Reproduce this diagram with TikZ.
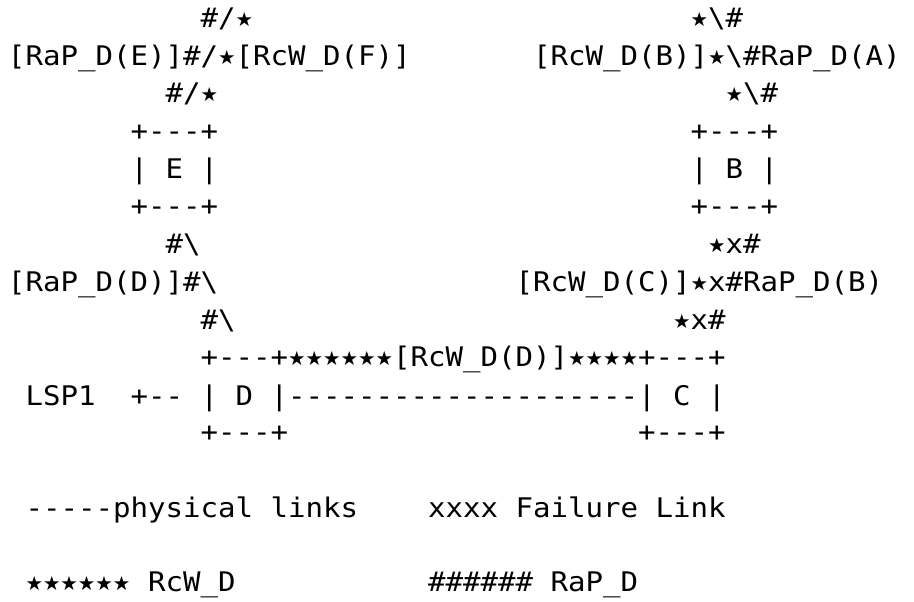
\documentclass[tikz,border=0pt]{standalone}
\usepackage{fontspec}
\newfontfamily\asciifont{DejaVu Sans Mono}[FakeStretch=1.077]
\newfontfamily\starfont{DejaVu Sans}
\newlength\asciichw
\newcommand\st{\settowidth{\asciichw}{x}\makebox[\asciichw]{\raisebox{1pt}{\starfont\fontsize{19.5}{20}\selectfont ★}}}
\tikzset{txt/.style={anchor=base west, inner sep=0pt, outer sep=0pt, text=black,
  font=\asciifont\fontsize{27}{32}\selectfont}}
\begin{document}
\begin{tikzpicture}[x=1pt,y=1pt]
\useasboundingbox[fill=white] (0,0) rectangle (914,-602);
% line 1
\node[txt] (a1) at (200.5,-27.5) {\#/\st};
\node[txt] (b1) at (690.5,-27.5) {\st\textbackslash\#};
% line 2
\node[txt] (a2) at (8,-65.1) {[RaP\_D(E)]\#/\st[RcW\_D(F)]};
\node[txt] (b2) at (533,-65.1) {[RcW\_D(B)]\st\textbackslash\#RaP\_D(A)};
% line 3
\node[txt] (a3) at (165.5,-102.7) {\#/\st};
\node[txt] (b3) at (725.5,-102.7) {\st\textbackslash\#};
% box E and box B
\node[txt] (e1) at (130.5,-140.3) {+---+};
\node[txt] (f1) at (690.5,-140.3) {+---+};
\node[txt] (e2) at (130.5,-178.5) {|};
\node[txt] (e3) at (165.5,-178.5) {E};
\node[txt] (e4) at (200.5,-178.5) {|};
\node[txt] (f2) at (690.5,-178.5) {|};
\node[txt] (f3) at (725.5,-178.5) {B};
\node[txt] (f4) at (760.5,-178.5) {|};
\node[txt] (e5) at (130.5,-215.5) {+---+};
\node[txt] (f5) at (690.5,-215.5) {+---+};
% line 7
\node[txt] (a7) at (165.5,-253.6) {\#\textbackslash};
\node[txt] (b7) at (708,-253.6) {\st x\#};
% line 8
\node[txt] (a8) at (8,-291.5) {[RaP\_D(D)]\#\textbackslash};
\node[txt] (b8) at (515.5,-291.5) {[RcW\_D(C)]\st x\#RaP\_D(B)};
% line 9
\node[txt] (a9) at (200.5,-329.3) {\#\textbackslash};
\node[txt] (b9) at (673,-329.3) {\st x\#};
% line 10
\node[txt] (dtop) at (200.5,-366.5) {+---+\st\st\st\st\st\st[RcW\_D(D)]\st\st\st\st+---+};
% line 11
\node[txt] (lsp) at (25.5,-405) {LSP1};
\node[txt] (lspa) at (130.5,-405) {+--};
\node[txt] (d1) at (200.5,-405) {|};
\node[txt] (d2) at (235.5,-405) {D};
\node[txt] (d3) at (270.5,-405) {|--------------------|};
\node[txt] (c2) at (673,-405) {C};
\node[txt] (c3) at (708,-405) {|};
% line 12
\node[txt] (dbot) at (200.5,-441.5) {+---+};
\node[txt] (cbot) at (638,-441.5) {+---+};
% legend
\node[txt] (lg1) at (25.5,-517) {-----physical links};
\node[txt] (lg2) at (428,-517) {xxxx Failure Link};
\node[txt] (lg3) at (25.5,-591) {\st\st\st\st\st\st{} RcW\_D};
\node[txt] (lg4) at (428,-591) {\#\#\#\#\#\# RaP\_D};
\end{tikzpicture}
\end{document}
